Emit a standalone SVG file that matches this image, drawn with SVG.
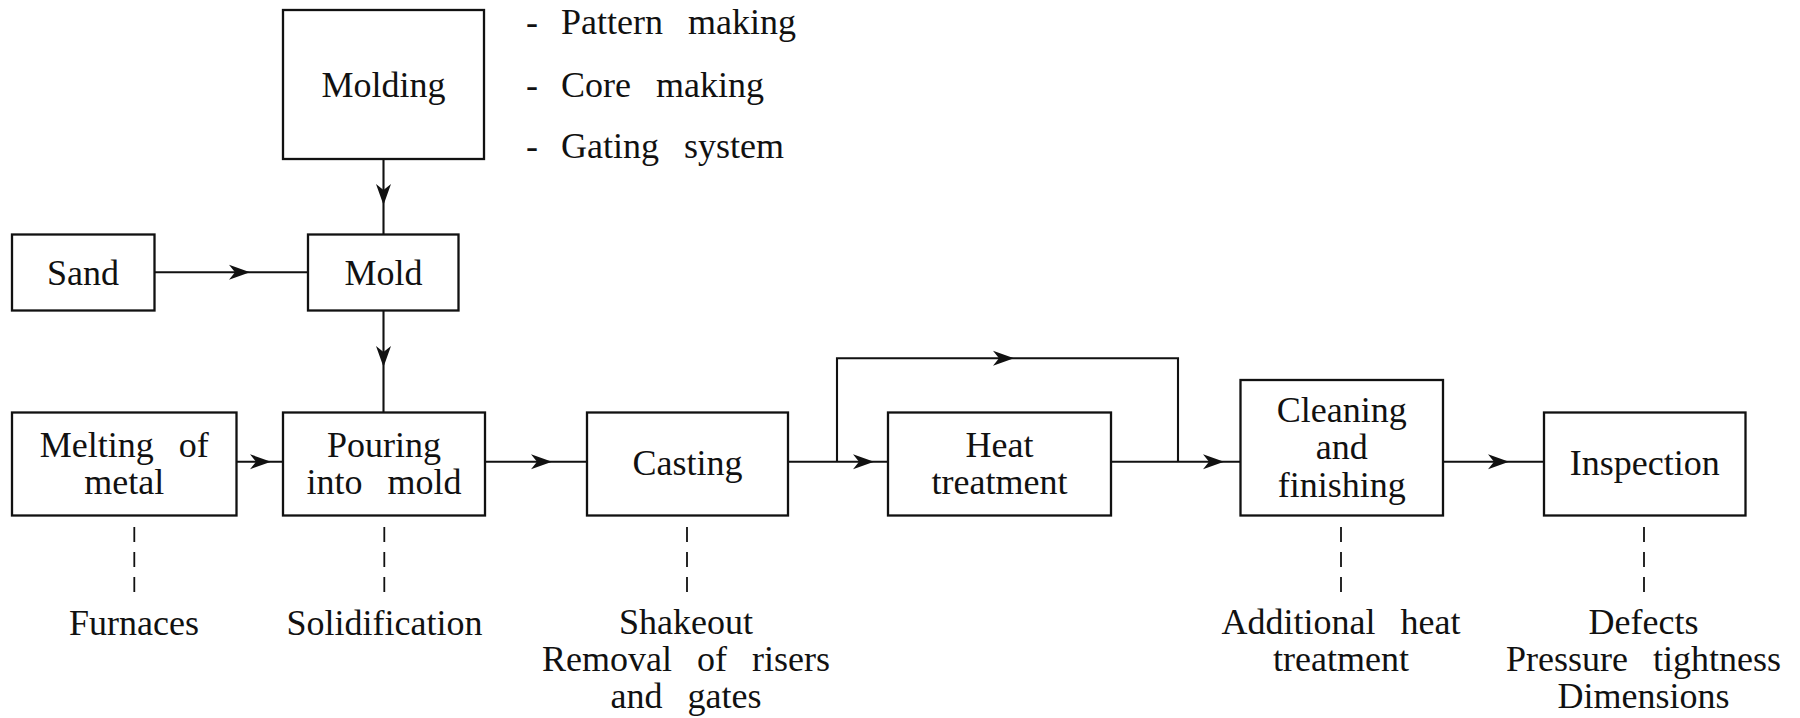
<svg xmlns="http://www.w3.org/2000/svg" xmlns:xlink="http://www.w3.org/1999/xlink" width="1800" height="718" viewBox="0 0 1800 718">
  <style>
    .box { fill: #fff; stroke: #111; stroke-width: 2.3; }
    .wire { fill: none; stroke: #111; stroke-width: 2.1; }
    .dash { fill: none; stroke: #111; stroke-width: 1.8; stroke-dasharray: 15 10; }
    .head { fill: #111; stroke: none; }
    text { font-family: "Liberation Serif", "Times New Roman", serif; font-size: 36px; fill: #111; word-spacing: 16px; }
    .c { text-anchor: middle; }
  </style>
  <defs>
    <!-- barbed arrowhead, tip at the origin, pointing along +x -->
    <path id="ah" class="head" d="M0,0 L-21,-7.5 L-15,0 L-21,7.5 Z"/>
  </defs>

  <rect width="1800" height="718" fill="#fff"/>

  <!-- connectors -->
  <g id="connectors">
    <!-- Molding -> Mold -->
    <line class="wire" x1="383.5" y1="159" x2="383.5" y2="234"/>
    <use xlink:href="#ah" transform="translate(383.5,205) rotate(90)"/>
    <!-- Sand -> Mold -->
    <line class="wire" x1="154" y1="272.3" x2="308" y2="272.3"/>
    <use xlink:href="#ah" transform="translate(250,272.3)"/>
    <!-- Mold -> Pouring -->
    <line class="wire" x1="383.5" y1="310.5" x2="383.5" y2="412.5"/>
    <use xlink:href="#ah" transform="translate(383.5,367) rotate(90)"/>
    <!-- main process line -->
    <line class="wire" x1="236.5" y1="461.7" x2="283" y2="461.7"/>
    <use xlink:href="#ah" transform="translate(271,461.7)"/>
    <line class="wire" x1="485" y1="461.7" x2="587" y2="461.7"/>
    <use xlink:href="#ah" transform="translate(552,461.7)"/>
    <line class="wire" x1="788" y1="461.7" x2="888" y2="461.7"/>
    <use xlink:href="#ah" transform="translate(874,461.7)"/>
    <line class="wire" x1="1111" y1="461.7" x2="1240.5" y2="461.7"/>
    <use xlink:href="#ah" transform="translate(1224,461.7)"/>
    <line class="wire" x1="1443" y1="461.7" x2="1544" y2="461.7"/>
    <use xlink:href="#ah" transform="translate(1509,461.7)"/>
    <!-- bypass around heat treatment -->
    <polyline class="wire" points="837,461.7 837,358.3 1178,358.3 1178,461.7"/>
    <use xlink:href="#ah" transform="translate(1014,358.3)"/>
    <!-- dashed leaders to notes -->
    <line class="dash" x1="134.3" y1="527" x2="134.3" y2="592"/>
    <line class="dash" x1="384.3" y1="527" x2="384.3" y2="592"/>
    <line class="dash" x1="687" y1="527" x2="687" y2="592"/>
    <line class="dash" x1="1341" y1="527" x2="1341" y2="592"/>
    <line class="dash" x1="1644" y1="527" x2="1644" y2="592"/>
  </g>

  <g id="molding">
    <rect class="box" x="283" y="10" width="201" height="149"/>
    <text class="c" x="383.5" y="97">Molding</text>
  </g>

  <g id="molding-notes">
    <text x="526" y="33.5">-</text>
    <text x="561" y="33.5" word-spacing="20">Pattern making</text>
    <text x="526" y="96.7">-</text>
    <text x="561" y="96.7" word-spacing="20">Core making</text>
    <text x="526" y="158.3">-</text>
    <text x="561" y="158.3" word-spacing="20">Gating system</text>
  </g>

  <g id="sand">
    <rect class="box" x="12" y="234.5" width="142.5" height="76"/>
    <text class="c" x="83" y="285">Sand</text>
  </g>

  <g id="mold">
    <rect class="box" x="308" y="234.5" width="150.5" height="76"/>
    <text class="c" x="383.5" y="285">Mold</text>
  </g>

  <g id="melting">
    <rect class="box" x="12" y="412.5" width="224.5" height="103"/>
    <text class="c" x="124.2" y="457.3">Melting of</text>
    <text class="c" x="124.2" y="494">metal</text>
  </g>

  <g id="pouring">
    <rect class="box" x="283" y="412.5" width="202" height="103"/>
    <text class="c" x="384" y="457.3">Pouring</text>
    <text class="c" x="384" y="494">into mold</text>
  </g>

  <g id="casting">
    <rect class="box" x="587" y="412.5" width="201" height="103"/>
    <text class="c" x="687.4" y="475">Casting</text>
  </g>

  <g id="heat-treatment">
    <rect class="box" x="888" y="412.5" width="223" height="103"/>
    <text class="c" x="999.5" y="457.3">Heat</text>
    <text class="c" x="999.5" y="493.5">treatment</text>
  </g>

  <g id="cleaning">
    <rect class="box" x="1240.5" y="380" width="202.5" height="135.5"/>
    <text class="c" x="1341.7" y="421.7">Cleaning</text>
    <text class="c" x="1341.7" y="459.3">and</text>
    <text class="c" x="1341.7" y="496.7">finishing</text>
  </g>

  <g id="inspection">
    <rect class="box" x="1544" y="412.5" width="201.5" height="103"/>
    <text class="c" x="1644.7" y="475">Inspection</text>
  </g>

  <g id="notes">
    <text class="c" x="134" y="634.5">Furnaces</text>
    <text class="c" x="384.5" y="634.5">Solidification</text>
    <text class="c" x="686" y="633.5">Shakeout</text>
    <text class="c" x="686" y="671">Removal of risers</text>
    <text class="c" x="686" y="708">and gates</text>
    <text class="c" x="1341" y="633.5">Additional heat</text>
    <text class="c" x="1341" y="671">treatment</text>
    <text class="c" x="1643.5" y="633.5">Defects</text>
    <text class="c" x="1643.5" y="671">Pressure tightness</text>
    <text class="c" x="1643.5" y="708">Dimensions</text>
  </g>
</svg>
